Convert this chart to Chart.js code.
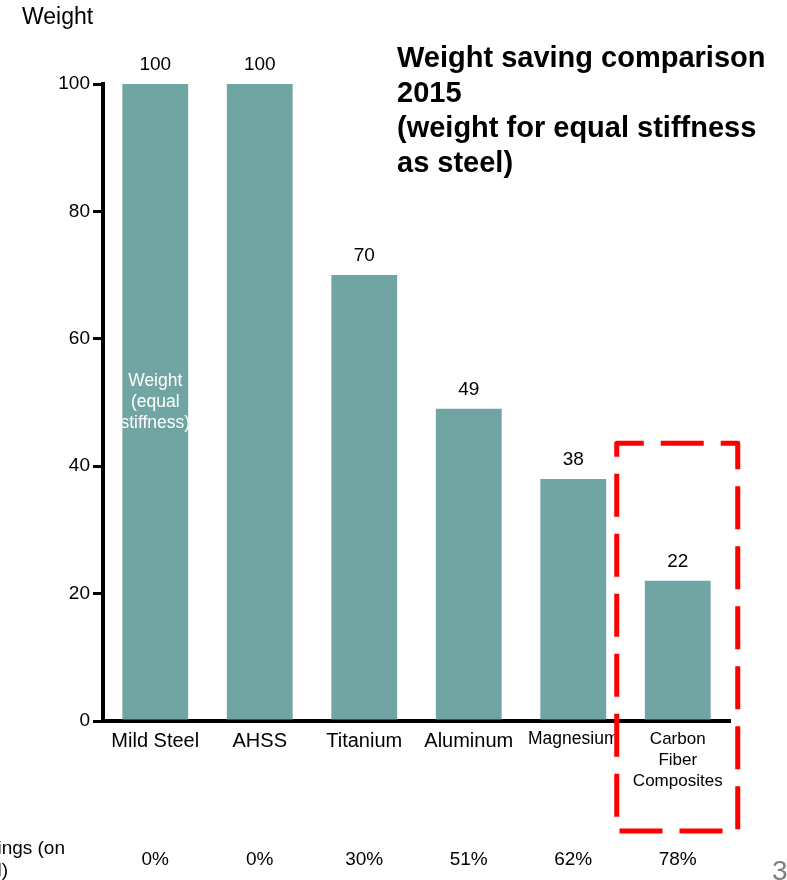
<!DOCTYPE html>
<html>
<head>
<meta charset="utf-8">
<script src="https://cdn.jsdelivr.net/npm/chart.js@4/dist/chart.umd.min.js"></script>
<style>
  html, body { margin: 0; padding: 0; background: #ffffff; }
  canvas { display: block; }
</style>
</head>
<body>
<canvas id="chart" width="787" height="880"></canvas>
<script>
// Materials compared and their weight for equal stiffness (mild steel = 100)
const materials = ['Mild Steel', 'AHSS', 'Titanium', 'Aluminum', 'Magnesium', ['Carbon', 'Fiber', 'Composites']];
const weights = [100, 100, 70, 49, 38, 22];
const savings = ['0%', '0%', '30%', '51%', '62%', '78%'];
const yTicks = [0, 20, 40, 60, 80, 100];
const titleLines = ['Weight saving comparison', '2015', '(weight for equal stiffness', 'as steel)'];
const barNote = ['Weight', '(equal', 'stiffness)'];
const savingsCaption = ['Weight savings (on', 'steel)'];
const highlightIndex = 5;

const FONT = '"Liberation Sans", Arial, Helvetica, sans-serif';
const BAR_COLOR = '#71a5a4';

const annotations = {
  id: 'annotations',
  afterDatasetsDraw(chart) {
    const ctx = chart.ctx;
    const meta = chart.getDatasetMeta(0);
    ctx.save();
    // value labels above each bar
    ctx.fillStyle = '#000';
    ctx.font = '19px ' + FONT;
    ctx.textAlign = 'center';
    ctx.textBaseline = 'middle';
    meta.data.forEach((bar, i) => {
      ctx.fillText(String(weights[i]), bar.x, bar.y - 19);
    });
    // white note inside the first bar, clipped to the bar
    const b0 = meta.data[0];
    const half = b0.width / 2;
    ctx.save();
    ctx.beginPath();
    ctx.rect(b0.x - half, b0.y, b0.width, b0.base - b0.y);
    ctx.clip();
    ctx.fillStyle = '#ffffff';
    ctx.font = '17.5px ' + FONT;
    const mid = (b0.y + b0.base) / 2;
    barNote.forEach((t, k) => ctx.fillText(t, b0.x, mid + (k - 1) * 21));
    ctx.restore();
    ctx.restore();
  },
  afterDraw(chart) {
    const ctx = chart.ctx;
    const x = chart.scales.x;
    const y = chart.scales.y;
    const area = chart.chartArea;
    ctx.save();
    // axis caption
    ctx.fillStyle = '#000';
    ctx.font = '23px ' + FONT;
    ctx.textAlign = 'left';
    ctx.textBaseline = 'middle';
    ctx.fillText('Weight', 22, 18);
    // title block
    ctx.font = 'bold 29px ' + FONT;
    titleLines.forEach((t, k) => ctx.fillText(t, 397, 59 + k * 35));
    // savings row
    ctx.font = '19px ' + FONT;
    ctx.textAlign = 'center';
    savings.forEach((s, i) => ctx.fillText(s, x.getPixelForValue(i), 860));
    ctx.textAlign = 'right';
    ctx.fillText(savingsCaption[0], 65, 849);
    ctx.fillText(savingsCaption[1], 8, 871);
    // page number
    ctx.fillStyle = '#7f7f7f';
    ctx.font = '28px ' + FONT;
    ctx.textAlign = 'left';
    ctx.fillText('3', 772, 872);
    // dashed highlight around the carbon fibre column
    const cx = x.getPixelForValue(highlightIndex);
    const left = cx - 61, right = cx + 60;
    const top = y.getPixelForValue(43.6);
    const bottom = area.bottom + 110;
    ctx.strokeStyle = '#ff0000';
    ctx.lineWidth = 5;
    ctx.lineJoin = 'round';
    ctx.setLineDash([43, 17]);
    ctx.lineDashOffset = 16;
    ctx.beginPath();
    ctx.moveTo(left, top);
    ctx.lineTo(right, top);
    ctx.lineTo(right, bottom);
    ctx.lineTo(left, bottom);
    ctx.closePath();
    ctx.stroke();
    ctx.restore();
  }
};

new Chart(document.getElementById('chart'), {
  type: 'bar',
  data: {
    labels: materials,
    datasets: [{
      data: weights,
      backgroundColor: BAR_COLOR,
      borderWidth: 0,
      categoryPercentage: 1,
      barPercentage: 0.63
    }]
  },
  options: {
    responsive: false,
    animation: false,
    events: [],
    layout: { padding: { top: 84, right: 57, bottom: 0, left: 0 } },
    plugins: {
      legend: { display: false },
      tooltip: { enabled: false },
      title: { display: false }
    },
    scales: {
      x: {
        grid: { display: false, drawTicks: false },
        border: { display: true, color: '#000', width: 4 },
        ticks: {
          color: '#000',
          padding: 8,
          maxRotation: 0,
          autoSkip: false,
          font: (c) => {
            if (c.index === 4) return { family: FONT, size: 17.5, lineHeight: 1.2 };
            if (c.index === 5) return { family: FONT, size: 17, lineHeight: 1.24 };
            return { family: FONT, size: 20, lineHeight: 1.2 };
          }
        },
        afterFit: (s) => { s.height = 159; }
      },
      y: {
        min: 0,
        max: 100,
        afterBuildTicks: (s) => { s.ticks = yTicks.map(v => ({ value: v })); },
        grid: { drawOnChartArea: false, drawTicks: true, tickLength: 10, color: '#000', lineWidth: 3 },
        border: { display: true, color: '#000', width: 4 },
        ticks: {
          color: '#000',
          padding: 3,
          font: { family: FONT, size: 19 }
        },
        afterFit: (s) => { s.width = 103; }
      }
    }
  },
  plugins: [annotations]
});
</script>
</body>
</html>
